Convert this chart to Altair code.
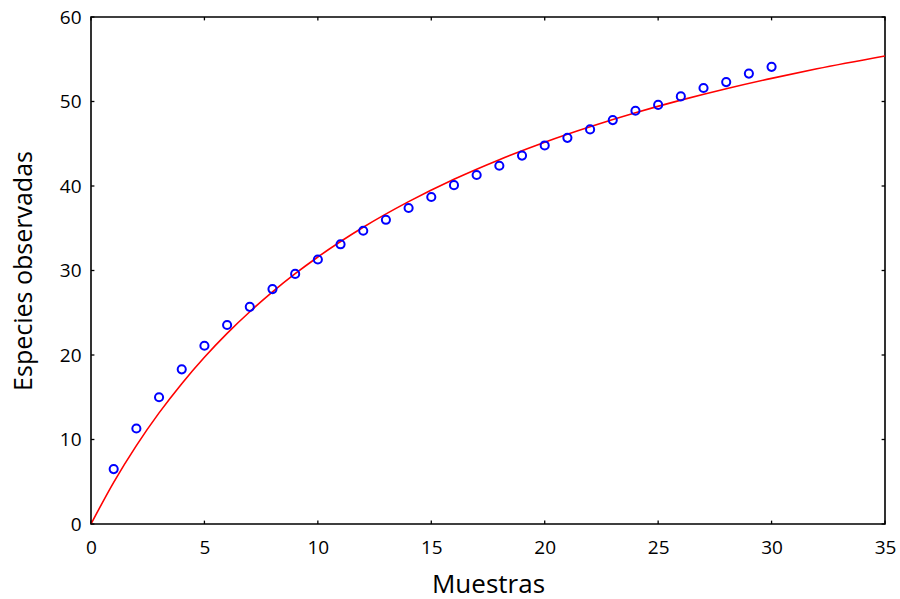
import altair as alt
import pandas as pd

# Observed species per cumulative sample
muestras = list(range(1, 31))
especies = [6.5, 11.3, 15.0, 18.3, 21.1, 23.55, 25.7, 27.8, 29.6, 31.3,
            33.1, 34.7, 36.0, 37.4, 38.7, 40.1, 41.3, 42.4, 43.6, 44.8,
            45.7, 46.7, 47.8, 48.9, 49.6, 50.6, 51.6, 52.3, 53.3, 54.1]

# Fitted accumulation curve, sampled along the x range
curva_x = [0, 1, 2, 3, 4, 5, 6, 7, 8, 9, 10, 12, 14, 16, 18, 20, 22, 24, 26, 28, 30, 32, 35]
curva_y = [0, 4.93, 9.28, 13.15, 16.61, 19.73, 22.56, 25.12, 27.47, 29.62, 31.60,
           35.12, 38.15, 40.80, 43.12, 45.19, 47.02, 48.67, 50.16, 51.51, 52.74, 53.87, 55.39]

# Tick positions on the frame
x_ticks = [0, 5, 10, 15, 20, 25, 30, 35]
y_ticks = [0, 10, 20, 30, 40, 50, 60]

FONT = "Open Sans"

puntos = pd.DataFrame({"x": muestras, "y": especies})
curva = pd.DataFrame({"x": curva_x, "y": curva_y})

xs = alt.Scale(domain=[0, 35], nice=False, zero=False)
ys = alt.Scale(domain=[0, 60], nice=False, zero=False)

x_axis = alt.Axis(values=x_ticks, title="Muestras", tickSize=0, labelPadding=14,
                  labelFlush=False, labelFontSize=19, titleFontSize=26,
                  titleFontWeight="normal", titlePadding=14, grid=False, domain=False,
                  labelColor="black", titleColor="black", labelFont=FONT, titleFont=FONT)
y_axis = alt.Axis(values=y_ticks, title="Especies observadas", tickSize=0, labelPadding=10,
                  labelFlush=False, labelFontSize=19, titleFontSize=25,
                  titleFontWeight="normal", titlePadding=23, grid=False, domain=False,
                  labelColor="black", titleColor="black", labelFont=FONT, titleFont=FONT)

line = alt.Chart(curva).mark_line(color="#ff0000", strokeWidth=1.6, interpolate="monotone", clip=True).encode(
    x=alt.X("x:Q", scale=xs, axis=x_axis),
    y=alt.Y("y:Q", scale=ys, axis=y_axis),
)

pts = alt.Chart(puntos).mark_point(shape="circle", filled=False, color="#0000ff",
                                   opacity=1, size=66, strokeWidth=2).encode(
    x=alt.X("x:Q", scale=xs),
    y=alt.Y("y:Q", scale=ys),
)

# Inward tick marks on all four sides of the frame
xt = pd.DataFrame({"v": x_ticks})
yt = pd.DataFrame({"v": y_ticks})

bottom_ticks = alt.Chart(xt).mark_rule(color="black", strokeWidth=1.3).encode(
    x=alt.X("v:Q", scale=xs), y=alt.datum(0, scale=ys), y2=alt.datum(0.4))
top_ticks = alt.Chart(xt).mark_rule(color="black", strokeWidth=1.3).encode(
    x=alt.X("v:Q", scale=xs), y=alt.datum(59.6, scale=ys), y2=alt.datum(60))
left_ticks = alt.Chart(yt).mark_rule(color="black", strokeWidth=1.3).encode(
    y=alt.Y("v:Q", scale=ys), x=alt.datum(0, scale=xs), x2=alt.datum(0.15))
right_ticks = alt.Chart(yt).mark_rule(color="black", strokeWidth=1.3).encode(
    y=alt.Y("v:Q", scale=ys), x=alt.datum(34.85, scale=xs), x2=alt.datum(35))

chart = alt.layer(line, pts, bottom_ticks, top_ticks, left_ticks, right_ticks).properties(
    width=794, height=507,
    autosize=alt.AutoSizeParams(type="none"),
    padding={"left": 91, "top": 17, "right": 15, "bottom": 75},
    background="white",
).configure_view(stroke="black", strokeWidth=1.6)

chart.save("out.html", embed_options={"renderer": "svg", "actions": False})
